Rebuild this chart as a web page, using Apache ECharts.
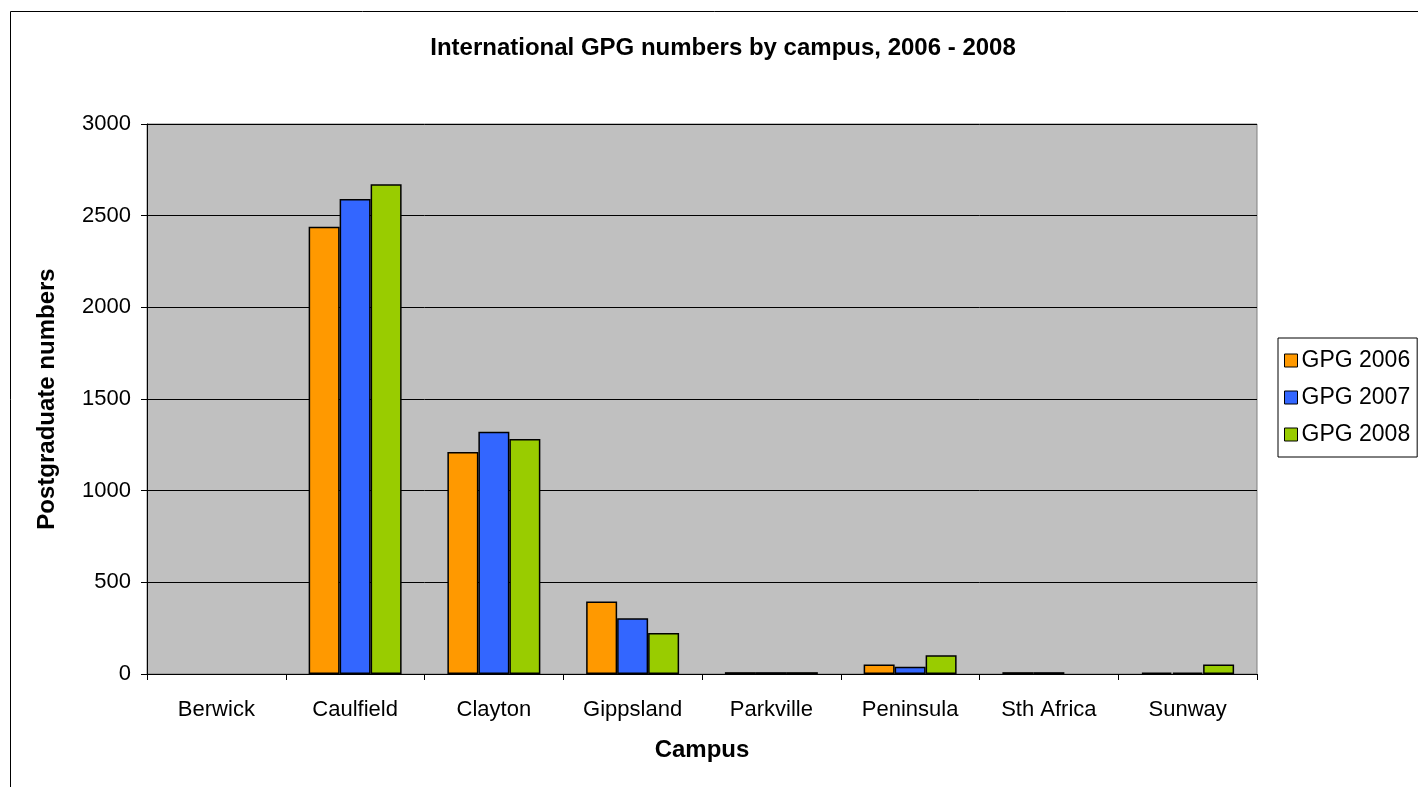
<!DOCTYPE html>
<html>
<head>
<meta charset="utf-8">
<script src="https://cdn.jsdelivr.net/npm/echarts@6/dist/echarts.min.js"></script>
<style>
html,body{margin:0;padding:0;background:#fff;}
#c{width:1418px;height:787px;}
</style>
</head>
<body>
<div id="c"></div>
<script>
const categories = ["Berwick","Caulfield","Clayton","Gippsland","Parkville","Peninsula","Sth Africa","Sunway"];
const gpg2006 = [0, 2440, 1211, 395, 10, 52, 10, 8];
const gpg2007 = [0, 2591, 1322, 304, 10, 40, 10, 8];
const gpg2008 = [0, 2671, 1282, 224, 10, 102, 0, 52];
const seriesNames = ["GPG 2006","GPG 2007","GPG 2008"];
const yTicks = [0, 500, 1000, 1500, 2000, 2500, 3000];

const chart = echarts.init(document.getElementById('c'), null, {renderer:'canvas'});
const font = 'Liberation Sans, Arial, sans-serif';
const mk = (name, data, color) => ({
  name, type:'bar', data: data.map(v => v === 0 ? null : v),
  barGap:'0%', barCategoryGap:'33%',
  itemStyle:{color, borderColor:'#000', borderWidth:1.5},
  emphasis:{disabled:true}
});
chart.setOption({
  animation:false,
  backgroundColor:'#fff',
  title:{
    text:'International GPG numbers by campus, 2006 - 2008',
    left:718, top:31, textAlign:'center',
    textStyle:{fontFamily:font, fontSize:24, fontWeight:'bold', color:'#000'}
  },
  graphic:[{
    type:'rect', shape:{x:10.5, y:11.5, width:1420, height:800},
    style:{fill:'none', stroke:'#000', lineWidth:1}, z:-1
  }],
  legend:{
    orient:'vertical', left:1278, top:338,
    padding:[11,7,11,6], itemGap:14,
    itemWidth:13, itemHeight:13,
    borderColor:'#000', borderWidth:1,
    data:seriesNames.map(n=>({name:n, icon:'rect'})),
    textStyle:{fontFamily:font, fontSize:23, color:'#000', padding:[0,0,0,-1]},
    itemStyle:{borderColor:'#000', borderWidth:1}
  },
  grid:{left:147, top:124, width:1110, height:550, show:true, backgroundColor:'#C0C0C0', borderColor:'#808080', borderWidth:1},
  xAxis:{
    type:'category', data:categories,
    name:'Campus', nameLocation:'middle', nameGap:64,
    nameTextStyle:{fontFamily:font, fontSize:24, fontWeight:'bold', color:'#000'},
    axisLine:{lineStyle:{color:'#000', width:1}},
    axisTick:{show:true, alignWithLabel:false, length:6, lineStyle:{color:'#000'}},
    axisLabel:{fontFamily:font, fontSize:22, color:'#000', margin:25}
  },
  yAxis:{
    type:'value', min:0, max:3000, interval:500,
    name:'Postgraduate numbers', nameLocation:'middle', nameGap:88,
    nameTextStyle:{fontFamily:font, fontSize:24, fontWeight:'bold', color:'#000'},
    axisLine:{show:true, lineStyle:{color:'#000', width:1}},
    axisTick:{show:true, length:6, lineStyle:{color:'#000'}},
    axisLabel:{fontFamily:font, fontSize:22, color:'#000', margin:16,
      formatter:v=>yTicks.includes(v)?String(v):''},
    splitLine:{show:true, lineStyle:{color:'#000', width:1}}
  },
  series:[
    mk(seriesNames[0], gpg2006, '#FF9900'),
    mk(seriesNames[1], gpg2007, '#3366FF'),
    mk(seriesNames[2], gpg2008, '#99CC00')
  ]
});
</script>
</body>
</html>
